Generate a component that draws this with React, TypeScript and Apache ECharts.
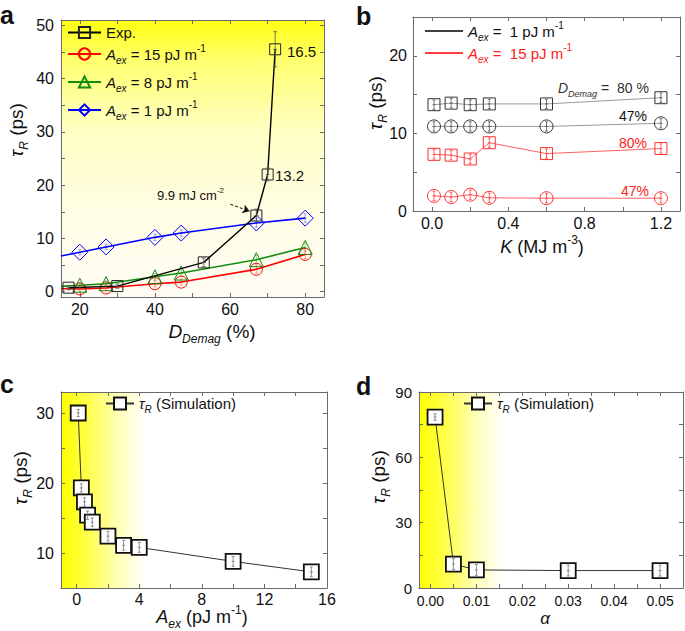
import React, { useEffect, useRef } from 'react';
import * as echarts from 'echarts';

const FONT = "'Liberation Sans', Arial, sans-serif";
const AXIS = '#6a6a6a';

// ---------- Panel a data ----------
const aExpX = [17, 30, 53, 67, 70, 72];
const aExpY = [0.75, 1.05, 5.5, 14.3, 22.0, 45.5];
const aExpErr = [0.4, 0.4, 0.8, 1.2, 1.2, 3.3];
const aSimX = [15, 20, 27, 40, 47, 67, 80]; // first x is where the simulated line starts (no marker)
const aSim15 = [0.55, 0.5, 0.7, 1.5, 1.8, 4.2, 7.0];
const aSim8 = [1.0, 1.2, 1.5, 2.8, 3.5, 6.0, 8.3];
const aSim1 = [6.7, 7.4, 8.4, 10.2, 11.0, 12.9, 13.8];
const aSimErr = [0, 0.5, 0.5, 0.6, 0.6, 0.8, 0.8];
const aXLabels = [20, 40, 60, 80];
const aXTicks = [20, 30, 40, 50, 60, 70, 80];
const aYLabels = [0, 10, 20, 30, 40, 50];
const aYTicks = [0, 5, 10, 15, 20, 25, 30, 35, 40, 45, 50];

// ---------- Panel b data ----------
const bK = [0.01, 0.1, 0.2, 0.3, 0.6, 1.2];
const bA1D80 = [13.7, 13.9, 13.7, 13.8, 13.8, 14.6];
const bA1D47 = [10.9, 10.9, 10.9, 10.9, 10.9, 11.3];
const bA15D80 = [7.3, 7.2, 6.7, 8.8, 7.4, 8.05];
const bA15D47 = [1.95, 1.8, 2.1, 1.7, 1.65, 1.65];
const bErr = [0.6, 0.6, 0.6, 0.6, 0.6, 0.6];
const bXLabels = [0, 0.4, 0.8, 1.2];
const bXTicks = [0, 0.2, 0.4, 0.6, 0.8, 1.0, 1.2];
const bYLabels = [0, 10, 20];
const bYTicks = [0, 5, 10, 15, 20];

// ---------- Panel c data ----------
const cAex = [0.1, 0.3, 0.5, 0.7, 1, 2, 3, 4, 10, 15];
const cTau = [30, 19.3, 17.3, 15.4, 14.4, 12.4, 11.1, 10.8, 8.8, 7.3];
const cErr = [0.5, 0.6, 0.6, 0.6, 0.6, 0.7, 0.7, 0.7, 0.7, 0.7];
const cXLabels = [0, 4, 8, 12, 16];
const cXTicks = [0, 2, 4, 6, 8, 10, 12, 14, 16];
const cYLabels = [10, 20, 30];
const cYTicks = [10, 15, 20, 25, 30];

// ---------- Panel d data ----------
const dAlpha = [0.001, 0.005, 0.01, 0.03, 0.05];
const dTau = [78.5, 11, 8.3, 8, 8];
const dErr = [1.5, 2.5, 2.5, 2.5, 2.5];
const dXLabels = [0, 0.01, 0.02, 0.03, 0.04, 0.05];
const dXTicks = [0, 0.005, 0.01, 0.015, 0.02, 0.025, 0.03, 0.035, 0.04, 0.045, 0.05];
const dYLabels = [0, 30, 60, 90];
const dYTicks = [0, 15, 30, 45, 60, 75, 90];

const rich = (size: number) => ({
  i: { fontStyle: 'italic', fontSize: size, fontFamily: FONT },
  sub: { fontStyle: 'italic', fontSize: Math.round(size * 0.65), fontFamily: FONT, padding: [Math.round(size * 0.8), 0, 0, 0] },
  sup: { fontSize: Math.round(size * 0.65), fontFamily: FONT, padding: [0, 0, Math.round(size * 0.8), 0] },
});

const legendText: Record<string, string> = {
  aExp: 'Exp.',
  a15: '{i|A}{sub|ex} = 15 pJ m{sup|-1}',
  a8: '{i|A}{sub|ex} = 8 pJ m{sup|-1}',
  a1: '{i|A}{sub|ex} = 1 pJ m{sup|-1}',
  b1: '{i|A}{sub|ex} =  1 pJ m{sup|-1}',
  b15: '{i|A}{sub|ex} =  15 pJ m{sup|-1}',
  cSim: '{i|τ}{sub|R} (Simulation)',
  dSim: '{i|τ}{sub|R} (Simulation)',
};

function axisPair(kind: 'x' | 'y', gridIndex: number, min: number, max: number, labels: number[], ticks: number[], fmt: (v: number) => string, fontSize: number, margin: number) {
  const base: any = {
    type: 'value', gridIndex, min, max,
    splitLine: { show: false },
    axisLine: { show: true, onZero: false, lineStyle: { color: AXIS, width: 1 } },
    axisTick: { show: true, inside: true, length: 4, customValues: ticks, lineStyle: { color: AXIS, width: 1 } },
  };
  const main = { ...base, position: kind === 'x' ? 'bottom' : 'left', axisLabel: { show: true, customValues: labels, formatter: fmt, fontSize, fontFamily: FONT, color: '#111', margin } };
  const mirror = { ...base, position: kind === 'x' ? 'top' : 'right', axisLabel: { show: false } };
  return [main, mirror];
}

function errSeries(idx: number, xs: number[], ys: number[], es: number[], color: string, cap: number) {
  return {
    type: 'custom', xAxisIndex: idx, yAxisIndex: idx, z: 6, silent: true,
    data: xs.map((x, i) => [x, ys[i], es[i]]).filter((d) => d[2] > 0),
    renderItem: (params: any, api: any) => {
      const x = api.value(0), y = api.value(1), e = api.value(2);
      const p = api.coord([x, y]);
      const t = api.coord([x, y + e]);
      const b = api.coord([x, y - e]);
      const st = { stroke: color, lineWidth: 0.8 };
      return {
        type: 'group',
        children: [
          { type: 'line', shape: { x1: t[0], y1: t[1], x2: b[0], y2: b[1] }, style: st },
          { type: 'line', shape: { x1: t[0] - cap, y1: t[1], x2: t[0] + cap, y2: t[1] }, style: st },
          { type: 'line', shape: { x1: p[0] - cap, y1: p[1], x2: p[0] + cap, y2: p[1] }, style: st },
          { type: 'line', shape: { x1: b[0] - cap, y1: b[1], x2: b[0] + cap, y2: b[1] }, style: st },
        ],
      };
    },
  };
}

function simLine(name: string, ys: number[], color: string, symbol: string, size: number) {
  return {
    type: 'line', name, xAxisIndex: 0, yAxisIndex: 0, z: 3,
    symbol, symbolSize: size,
    lineStyle: { color, width: 1.6 },
    itemStyle: { color: 'rgba(0,0,0,0)', borderColor: color, borderWidth: 1 },
    data: aSimX.map((x, i) => (i === 0 ? { value: [x, ys[i]], symbol: 'none' } : [x, ys[i]])),
  };
}

function bSeries(ys: number[], line: string, edge: string, symbol: string, size: number) {
  return {
    type: 'line', xAxisIndex: 1, yAxisIndex: 1, z: 3,
    symbol, symbolSize: size,
    lineStyle: { color: line, width: 1 },
    itemStyle: { color: 'rgba(255,255,255,0)', borderColor: edge, borderWidth: 1 },
    data: bK.map((k, i) => [k, ys[i]]),
  };
}

function simSeries(name: string, idx: number, xs: number[], ys: number[]) {
  return {
    type: 'line', name, xAxisIndex: idx, yAxisIndex: idx, z: 3,
    symbol: 'rect', symbolSize: 15,
    lineStyle: { color: '#333', width: 1 },
    itemStyle: { color: '#ffffff', borderColor: '#111', borderWidth: 1.8 },
    data: xs.map((x, i) => [x, ys[i]]),
  };
}

function txt(text: string, x: number, y: number, size: number, opts: any = {}) {
  return {
    type: 'text', x, y, rotation: opts.rotation || 0, z: 100, silent: true,
    style: {
      text, fill: opts.color || '#111', fontSize: size, fontFamily: FONT,
      fontWeight: opts.bold ? 'bold' : 'normal', fontStyle: opts.italic ? 'italic' : 'normal',
      align: opts.align || 'center', verticalAlign: 'middle',
      textAlign: opts.align || 'center', textVerticalAlign: 'middle',
      rich: rich(size),
    },
  };
}

function buildOption() {
  const int = (v: number) => String(Math.round(v));
  const ax = axisPair('x', 0, 15, 85, aXLabels, aXTicks, int, 16, 4);
  const ay = axisPair('y', 0, -1, 51, aYLabels, aYTicks, int, 16, 7);
  const bx = axisPair('x', 1, -0.1, 1.3, bXLabels, bXTicks, (v) => v.toFixed(1), 16, 4);
  const by = axisPair('y', 1, 0, 25, bYLabels, bYTicks, int, 16, 6);
  const cx = axisPair('x', 2, -1, 16, cXLabels, cXTicks, int, 16, 3);
  const cy = axisPair('y', 2, 5, 33, cYLabels, cYTicks, int, 16, 7);
  const dx = axisPair('x', 3, -0.0025, 0.055, dXLabels, dXTicks, (v) => v.toFixed(2), 14, 6);
  const dy = axisPair('y', 3, 0, 90, dYLabels, dYTicks, int, 15, 7);

  const gradA = new echarts.graphic.LinearGradient(0, 0, 0, 1, [
    { offset: 0, color: '#ffff10' },
    { offset: 0.15, color: '#ffff70' },
    { offset: 0.4, color: '#ffffc4' },
    { offset: 0.7, color: '#fffde4' },
    { offset: 1, color: '#fffdf4' },
  ]);
  const gradH = (end: number) => new echarts.graphic.LinearGradient(0, 0, 1, 0, [
    { offset: 0, color: '#ffff00' },
    { offset: end * 0.3, color: '#ffff48' },
    { offset: end * 0.65, color: '#ffffb0' },
    { offset: end, color: '#ffffff' },
    { offset: 1, color: '#ffffff' },
  ]);

  const legendBase = {
    orient: 'vertical', selectedMode: false, padding: 0, formatter: (n: string) => legendText[n] || n,
    textStyle: { fontFamily: FONT, fontSize: 15, color: '#111', rich: rich(15) },
  };

  return {
    animation: false,
    backgroundColor: '#ffffff',
    textStyle: { fontFamily: FONT },
    grid: [
      { left: 61, top: 20, width: 263, height: 277, show: true, backgroundColor: gradA, borderWidth: 0, outerBoundsMode: 'none' },
      { left: 413, top: 17, width: 267, height: 194, show: true, backgroundColor: '#ffffff', borderWidth: 0, outerBoundsMode: 'none' },
      { left: 61, top: 392, width: 266, height: 196, show: true, backgroundColor: gradH(0.32), borderWidth: 0, outerBoundsMode: 'none' },
      { left: 419, top: 392, width: 264, height: 196, show: true, backgroundColor: gradH(0.32), borderWidth: 0, outerBoundsMode: 'none' },
    ],
    xAxis: [ax[0], bx[0], cx[0], dx[0], ax[1], bx[1], cx[1], dx[1]],
    yAxis: [ay[0], by[0], cy[0], dy[0], ay[1], by[1], cy[1], dy[1]],
    legend: [
      { ...legendBase, data: ['aExp'], left: 67, top: 25, itemWidth: 33, itemHeight: 14 },
      { ...legendBase, data: ['a15', 'a8', 'a1'], left: 67, top: 43, itemWidth: 33, itemHeight: 14, itemGap: 6 },
      {
        ...legendBase,
        data: [{ name: 'b1', icon: 'rect' }, { name: 'b15', icon: 'rect', textStyle: { color: '#ff2020' } }],
        left: 425, top: 20, itemWidth: 38, itemHeight: 1.5, itemGap: 0,
      },
      { ...legendBase, data: ['cSim'], left: 105, top: 396, itemWidth: 28, itemHeight: 15 },
      { ...legendBase, data: ['dSim'], left: 463, top: 396, itemWidth: 28, itemHeight: 15 },
    ],
    series: [
      // panel a
      simLine('a15', aSim15, '#ff0000', 'circle', 12),
      simLine('a8', aSim8, '#108c10', 'triangle', 14),
      simLine('a1', aSim1, '#0000ff', 'diamond', 16),
      {
        type: 'line', name: 'aExp', xAxisIndex: 0, yAxisIndex: 0, z: 4,
        symbol: 'rect', symbolSize: 11,
        lineStyle: { color: '#000', width: 1.4 },
        itemStyle: { color: 'rgba(0,0,0,0)', borderColor: '#222', borderWidth: 1 },
        data: aExpX.map((x, i) => [x, aExpY[i]]),
        markLine: {
          silent: true, symbol: ['none', 'arrow'], symbolSize: 7, animation: false,
          lineStyle: { type: [3, 2], color: '#111', width: 1 },
          label: { show: false },
          data: [[{ coord: [60.1, 16.4] }, { coord: [65.2, 15.1] }]],
        },
      },
      errSeries(0, aExpX, aExpY, aExpErr, '#555', 2),
      errSeries(0, aSimX, aSim15, aSimErr, 'rgba(255,0,0,0.45)', 1.5),
      errSeries(0, aSimX, aSim8, aSimErr, 'rgba(16,140,16,0.45)', 1.5),
      errSeries(0, aSimX, aSim1, aSimErr, 'rgba(0,0,255,0.45)', 1.5),
      // panel b
      { type: 'line', name: 'b1', xAxisIndex: 1, yAxisIndex: 1, data: [], lineStyle: { color: '#000' }, itemStyle: { color: '#000' } },
      { type: 'line', name: 'b15', xAxisIndex: 1, yAxisIndex: 1, data: [], lineStyle: { color: '#ff0000' }, itemStyle: { color: '#ff0000' } },
      bSeries(bA1D80, '#9a9a9a', '#333', 'rect', 12),
      bSeries(bA1D47, '#9a9a9a', '#333', 'circle', 13),
      bSeries(bA15D80, '#ff6060', '#ff3030', 'rect', 12),
      bSeries(bA15D47, '#ff6060', '#ff3030', 'circle', 13),
      errSeries(1, bK, bA1D80, bErr, '#555', 1.5),
      errSeries(1, bK, bA1D47, bErr, '#555', 1.5),
      errSeries(1, bK, bA15D80, bErr, '#ff4040', 1.5),
      errSeries(1, bK, bA15D47, bErr, '#ff4040', 1.5),
      // panel c
      simSeries('cSim', 2, cAex, cTau),
      errSeries(2, cAex, cTau, cErr, '#777', 1.5),
      // panel d
      simSeries('dSim', 3, dAlpha, dTau),
      errSeries(3, dAlpha, dTau, dErr, '#777', 1.5),
    ],
    graphic: [
      txt('a', 0, 15, 25, { bold: true, align: 'left' }),
      txt('b', 356, 16, 25, { bold: true, align: 'left' }),
      txt('c', 0, 384, 25, { bold: true, align: 'left' }),
      txt('d', 356, 386, 25, { bold: true, align: 'left' }),
      // panel a
      txt('{i|τ}{sub|R} (ps)', 16, 130, 19, { rotation: Math.PI / 2 }),
      txt('{i|D}{sub|Demag} (%)', 212, 331, 19),
      txt('16.5', 287, 51, 15, { align: 'left' }),
      txt('13.2', 275, 175, 15, { align: 'left' }),
      txt('9.9 mJ cm{sup|-2}', 157, 195, 13, { align: 'left' }),
      // panel b
      txt('{i|τ}{sub|R} (ps)', 375, 103, 19, { rotation: Math.PI / 2 }),
      txt('{i|K} (MJ m{sup|-3})', 542, 247, 18),
      txt('{i|D}{sub|Demag} =  80 %', 558, 88, 14, { align: 'left', color: '#333' }),
      txt('47%', 619, 116, 14, { align: 'left', color: '#111' }),
      txt('80%', 619, 143, 14, { align: 'left', color: '#ff2020' }),
      txt('47%', 621, 191, 14, { align: 'left', color: '#ff2020' }),
      // panel c
      txt('{i|τ}{sub|R} (ps)', 20, 478, 19, { rotation: Math.PI / 2 }),
      txt('{i|A}{sub|ex} (pJ m{sup|-1})', 202, 617, 18),
      // panel d
      txt('{i|τ}{sub|R} (ps)', 378, 477, 19, { rotation: Math.PI / 2 }),
      txt('{i|α}', 545, 618, 17),
    ],
  };
}

export default function App() {
  const ref = useRef<HTMLDivElement>(null);
  useEffect(() => {
    document.body.style.margin = '0';
    const chart = echarts.init(ref.current as HTMLDivElement, null, { renderer: 'svg', width: 685, height: 631 });
    chart.setOption(buildOption() as any);
    return () => chart.dispose();
  }, []);
  return <div ref={ref} style={{ width: 685, height: 631 }} />;
}
